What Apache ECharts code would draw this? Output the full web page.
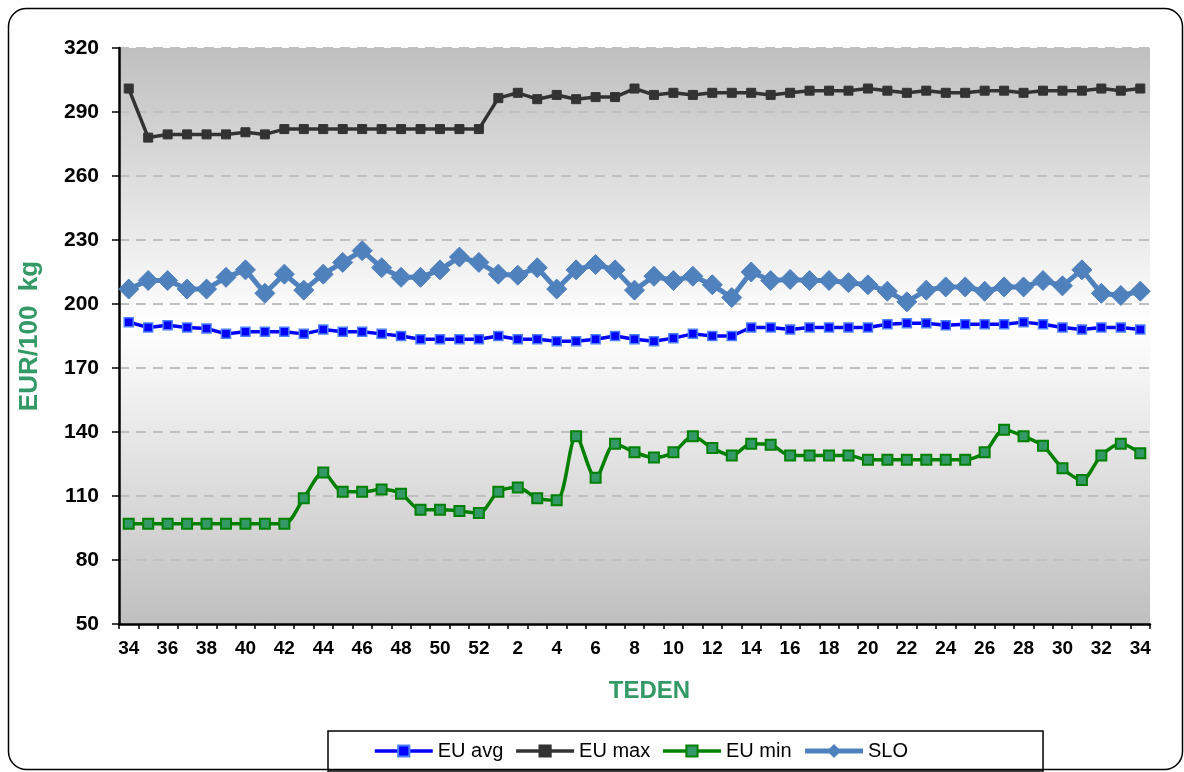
<!DOCTYPE html>
<html>
<head>
<meta charset="utf-8">
<script src="https://cdn.jsdelivr.net/npm/echarts@6/dist/echarts.min.js"></script>
<style>
html,body{margin:0;padding:0;background:#fff;}
#chart{width:1184px;height:772px;}
</style>
</head>
<body>
<div id="chart"></div>
<script>
// tedni: 34..52 lani, 1..34 letos
var weeks = ['34','35','36','37','38','39','40','41','42','43','44','45','46','47','48','49','50','51','52',
	'1','2','3','4','5','6','7','8','9','10','11','12','13','14','15','16','17','18','19',
	'20','21','22','23','24','25','26','27','28','29','30','31','32','33','34'];

var euAvg = [191.5,189,190,189,188.5,186,187,187,187,186,188,187,187,186,185,183.5,183.5,183.5,183.5,
	185,183.5,183.5,182.5,182.5,183.5,185,183.5,182.5,184,186,185,185,189,189,188,189,189,189,
	189,190.5,191,191,190,190.5,190.5,190.5,191.5,190.5,189,188,189,189,188];

var euMax = [301,278,279.5,279.5,279.5,279.5,280.5,279.5,282,282,282,282,282,282,282,282,282,282,282,
	296.5,299,296,298,296,297,297,301,298,299,298,299,299,299,298,299,300,300,300,
	301,300,299,300,299,299,300,300,299,300,300,300,301,300,301];

var euMin = [97,97,97,97,97,97,97,97,97,109,121,112,112,113,111,103.5,103.5,103,102,
	112,114,109,108,138,118.5,134.5,130.5,128,130.5,138,132.5,129,134.5,134,129,129,129,129,
	127,127,127,127,127,127,130.5,141,138,133.5,123,117.5,129,134.5,130];

var slo = [207,211,211,207,207,212.5,216,205,214,206.5,214,219.5,225,217,212.5,212.5,216,222,219.5,
	214,213.5,217,207,216,218.5,216,206.5,213,211,213,209,203,215,211,211.5,211,211,210,
	209,206,201,206.5,208,208,206,208,208,211,208.5,216,205,204,206];

var yMin = 50, yMax = 320, yStep = 30;

var myChart = echarts.init(document.getElementById('chart'));
var font = 'Liberation Sans, Arial, sans-serif';
var option = {
	animation: false,
	backgroundColor: '#fff',
	textStyle: {fontFamily: font},
	graphic: [{
		type: 'rect',
		shape: {x: 8.5, y: 8.5, width: 1174, height: 761, r: 18},
		style: {fill: 'none', stroke: '#000', lineWidth: 1.5},
		silent: true
	}],
	grid: {
		left: 119, top: 48, right: 34, bottom: 148,
		show: true,
		borderWidth: 0,
		backgroundColor: new echarts.graphic.LinearGradient(0, 0, 0, 1, [
			{offset: 0, color: '#bfbfbf'},
			{offset: 0.48, color: '#ffffff'},
			{offset: 1, color: '#bfbfbf'}
		])
	},
	legend: {
		left: 328, top: 731,
		padding: [10, 135, 10, 45],
		borderColor: '#000', borderWidth: 1.5,
		itemWidth: 58, itemHeight: 14, itemGap: 11,
		textStyle: {fontSize: 20, color: '#000', fontFamily: font},
		data: [
			{name: 'EU avg', lineStyle: {width: 3.5}},
			{name: 'EU max', lineStyle: {width: 3.5}},
			{name: 'EU min', lineStyle: {width: 3.5}},
			{name: 'SLO', lineStyle: {width: 5}}
		]
	},
	xAxis: {
		type: 'category',
		data: weeks,
		boundaryGap: true,
		name: 'TEDEN',
		nameLocation: 'middle',
		nameGap: 55,
		nameTextStyle: {color: '#339966', fontWeight: 'bold', fontSize: 24, padding: [0, 0, 0, 30]},
		axisLine: {lineStyle: {color: '#000', width: 2.5}},
		axisTick: {show: true, interval: 0, length: 5, lineStyle: {color: '#000', width: 1.5}},
		axisLabel: {interval: 1, margin: 15, color: '#000', fontWeight: 'bold', fontSize: 19},
		splitLine: {show: false}
	},
	yAxis: {
		type: 'value',
		min: yMin, max: yMax, interval: yStep,
		name: 'EUR/100  kg',
		nameLocation: 'middle',
		nameGap: 76,
		nameTextStyle: {color: '#339966', fontWeight: 'bold', fontSize: 26},
		axisLine: {show: true, lineStyle: {color: '#000', width: 2.5}},
		axisTick: {show: true, length: 7, lineStyle: {color: '#000', width: 1.5}},
		axisLabel: {margin: 20, color: '#000', fontWeight: 'bold', fontSize: 21},
		splitLine: {show: true, lineStyle: {color: '#c0c0c0', width: 2, type: [10, 7]}}
	},
	series: [{
		name: 'EU avg',
		type: 'line',
		data: euAvg,
		showAllSymbol: true,
		symbol: 'rect', symbolSize: 9,
		lineStyle: {color: '#0000ff', width: 3.5},
		itemStyle: {color: '#0000ff', borderColor: '#4d7fff', borderWidth: 1.5}
	}, {
		name: 'EU max',
		type: 'line',
		data: euMax,
		showAllSymbol: true,
		symbol: 'rect', symbolSize: 9,
		lineStyle: {color: '#333333', width: 3.5},
		itemStyle: {color: '#333333', borderColor: '#333333', borderWidth: 1}
	}, {
		name: 'EU min',
		type: 'line',
		data: euMin,
		showAllSymbol: true,
		smooth: 0.3,
		symbol: 'rect', symbolSize: 10,
		lineStyle: {color: '#008000', width: 3.5},
		itemStyle: {color: '#339966', borderColor: '#008000', borderWidth: 2}
	}, {
		name: 'SLO',
		type: 'line',
		data: slo,
		showAllSymbol: true,
		symbol: 'diamond', symbolSize: 20,
		lineStyle: {color: '#4f81bd', width: 5},
		itemStyle: {color: '#4f81bd', borderColor: '#4f81bd', borderWidth: 1}
	}]
};
myChart.setOption(option);
</script>
</body>
</html>
